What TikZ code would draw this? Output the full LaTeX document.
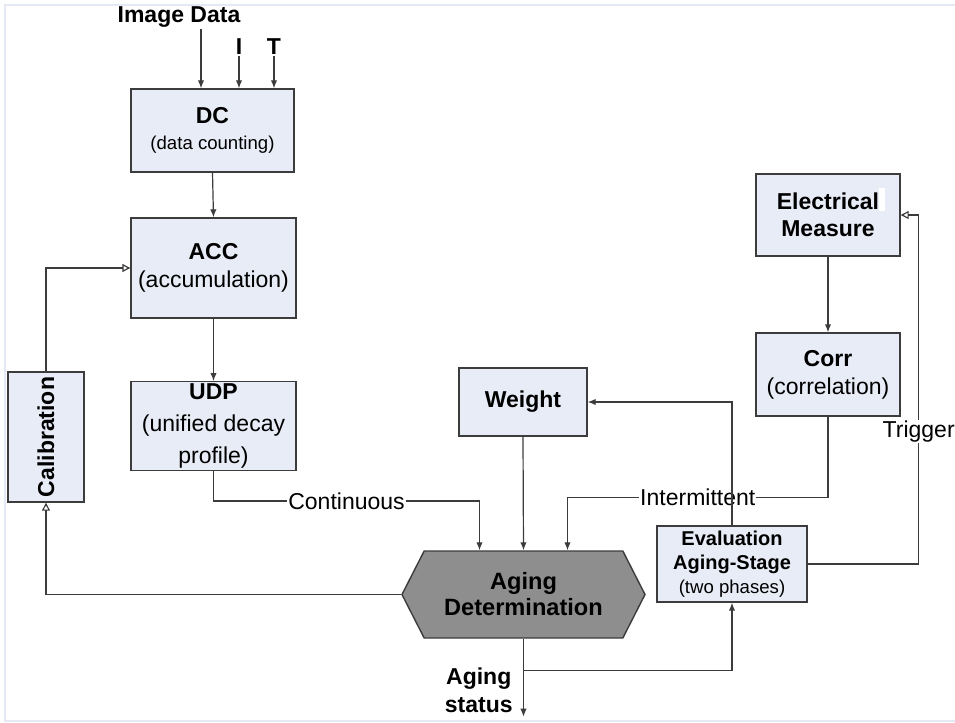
\documentclass[tikz,border=0pt]{standalone}
\usepackage{fontspec}
\setmainfont{Liberation Sans}
\usetikzlibrary{arrows.meta,shapes.symbols,calc}
\definecolor{boxfill}{HTML}{E8ECF6}
\definecolor{edge}{HTML}{3C3C3C}
\definecolor{hexfill}{HTML}{8E8E8E}
\definecolor{framecol}{HTML}{E4E9F3}
\newcommand{\smalltxt}[1]{{\fontsize{9.3}{11}\selectfont #1}}

\begin{document}
\begin{tikzpicture}[x=0.5pt,y=-0.5pt,
  box/.style={draw=edge, fill=boxfill, line width=0.7pt, align=center, inner sep=1pt, font=\fontsize{11.5}{14}\selectfont},
  arr/.style={draw=edge, line width=0.6pt, -{Latex[length=4pt,width=3.2pt]}},
  oarr/.style={draw=edge, line width=0.6pt, -{Triangle[open,length=4pt,width=4pt]}},
  lbl/.style={fill=white, inner sep=0.5pt, font=\fontsize{11.5}{14}\selectfont},
  blbl/.style={inner sep=0.5pt, align=center, font=\fontsize{11.5}{14}\selectfont\bfseries},
  ]
\useasboundingbox (0,0) rectangle (955,723);
\draw[framecol, line width=1pt] (955,5) -- (5,5) -- (5,721) -- (955,721);

\node[blbl] (imgdata) at (179,17) {Image Data};
\node[blbl] (ilab) at (239,47) {I};
\node[blbl] (tlab) at (274,47) {T};

\node[box, minimum width=81.5pt, minimum height=41.5pt] (dc) at (212.5,130.5) {\textbf{DC}\\[-1pt]\smalltxt{(data counting)}};
\node[box, minimum width=82.5pt, minimum height=50pt] (acc) at (213.5,268) {\textbf{ACC}\\(accumulation)};
\node[box, minimum width=82.5pt, minimum height=41pt, font=\fontsize{11.5}{16}\selectfont] (udp) at (213.5,426) {\textbf{UDP}\\(unified decay\\profile)};
\node[box, rotate=90, minimum width=65pt, minimum height=38pt] (calib) at (46,437) {\textbf{Calibration}};
\node[box, minimum width=64pt, minimum height=34pt] (weight) at (523,402) {\textbf{Weight}};
\node[box, minimum width=72pt, minimum height=41pt, font=\fontsize{11.5}{13.5}\selectfont\bfseries] (elec) at (828,215) {Electrical\\Measure};
\node[box, minimum width=72pt, minimum height=41.5pt] (corr) at (828,374.5) {\textbf{Corr}\\(correlation)};
\node[box, minimum width=75pt, minimum height=38pt, font=\fontsize{10}{12}\selectfont] (eval) at (732,564) {\textbf{Evaluation}\\\textbf{Aging-Stage}\\\smalltxt{(two phases)}};
\node[signal, signal to=west and east, signal pointer angle=126, draw=edge, fill=hexfill, line width=0.7pt,
  minimum width=121.5pt, minimum height=43.5pt, inner sep=1pt, align=center,
  font=\fontsize{11.8}{13}\selectfont\bfseries] (aging) at (523.5,594.5) {Aging\\Determination};
\fill[white] (879,188) rectangle (885,211);

\coordinate (cin) at ([xshift=-22pt]aging.north);
\coordinate (iin) at ([xshift=22pt]aging.north);
\coordinate (out) at ([yshift=-39pt]aging.south);
\coordinate (br) at ($(aging.south)!0.41!(out)$);

\draw[arr] ([xshift=11pt]imgdata.south) -- ([xshift=11pt]imgdata.south |- dc.north);
\draw[arr] (ilab.south) -- (ilab.south |- dc.north);
\draw[arr] (tlab.south) -- (tlab.south |- dc.north);
\draw[arr] (dc.south) -- (acc.north);
\draw[arr] (acc.south) -- (udp.north);
\draw[oarr] (calib.east) |- (acc.west);
\draw[oarr] (aging.west) -| (calib.west);
\draw[arr] (udp.south) -- ++(0,30) -| node[lbl, pos=0.25] {Continuous} (cin);
\draw[arr] (weight.south) -- (aging.north);
\draw[arr] (elec.south) -- (corr.north);
\draw[arr] (corr.south) -- ++(0,81) -| node[lbl, pos=0.25] {Intermittent} (iin);
\draw[arr] (eval.north) |- (weight.east);
\draw[oarr] (eval.east) -- ++(111,0) |- node[lbl, pos=0.19] {Trigger} (elec.east);
\draw[arr] (aging.south) -- (out);
\draw[arr] (br) -| (eval.south);
\node[blbl, anchor=east] (status) at (514,690) {Aging\\status};

\end{tikzpicture}
\end{document}
